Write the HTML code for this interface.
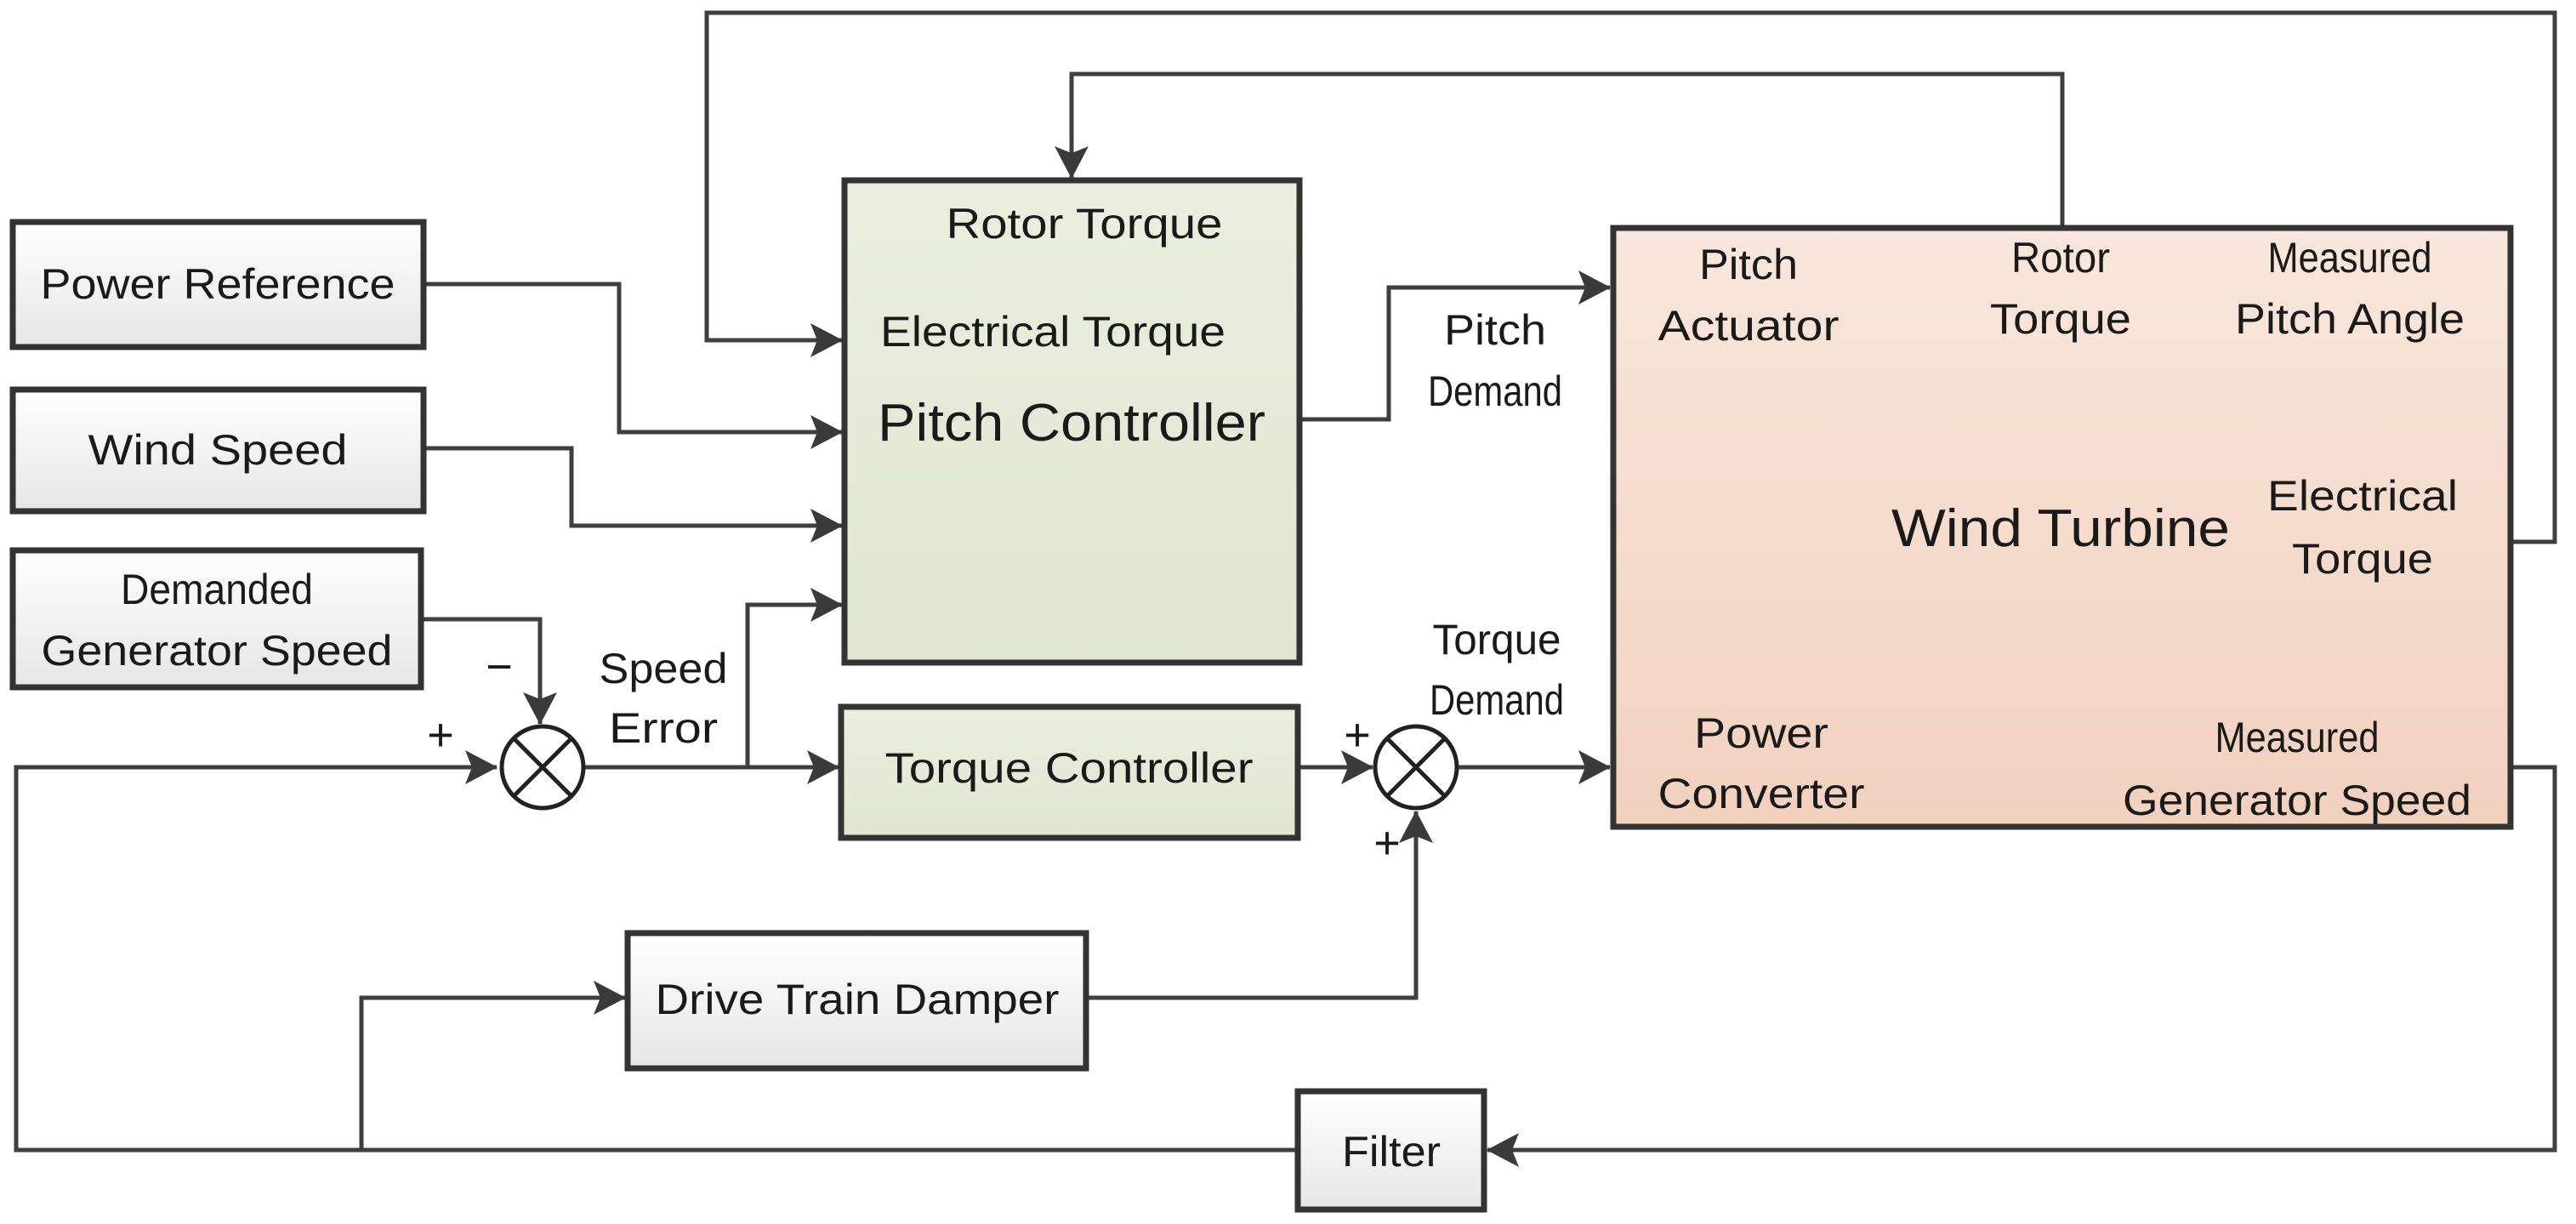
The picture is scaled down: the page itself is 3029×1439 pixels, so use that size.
<!DOCTYPE html>
<html><head><meta charset="utf-8"><style>
html,body{margin:0;padding:0;background:#fff}
svg{display:block}
text{font-family:"Liberation Sans",sans-serif;fill:#1a1a1a}
</style></head><body>
<svg width="3029" height="1439" viewBox="0 0 3029 1439" xmlns="http://www.w3.org/2000/svg">
<defs>
<linearGradient id="gg" x1="0" y1="0" x2="0" y2="1"><stop offset="0" stop-color="#ffffff"/><stop offset="1" stop-color="#e6e6e6"/></linearGradient>
<linearGradient id="gn" x1="0" y1="0" x2="0" y2="1"><stop offset="0" stop-color="#eaefdf"/><stop offset="1" stop-color="#dfe6cf"/></linearGradient>
<linearGradient id="go" x1="0" y1="0" x2="0" y2="1"><stop offset="0" stop-color="#f8e7dc"/><stop offset="1" stop-color="#f2d1be"/></linearGradient>
<marker id="a" markerWidth="8" markerHeight="8" refX="7" refY="4" orient="auto" markerUnits="userSpaceOnUse" viewBox="0 0 8 8" style="overflow:visible">
<path d="M-30,-16 L8,4 L-30,24 L-22,4 Z" fill="#3a3a3a"/></marker>
</defs>
<g fill="none" stroke="#3f3f3f" stroke-width="5">
<polyline points="2952,637 3004,637 3004,15 831,15 831,400 990,400" marker-end="url(#a)"/>
<polyline points="2425,268 2425,87 1260,87 1260,209" marker-end="url(#a)"/>
<polyline points="498,334 728,334 728,508 990,508" marker-end="url(#a)"/>
<polyline points="498,527 672,527 672,618 990,618" marker-end="url(#a)"/>
<polyline points="495,728 635,728 635,851" marker-end="url(#a)"/>
<polyline points="686,902 986,902" marker-end="url(#a)"/>
<polyline points="879,902 879,711 990,711" marker-end="url(#a)"/>
<polyline points="1526,902 1614,902" marker-end="url(#a)"/>
<polyline points="1713,902 1893,902" marker-end="url(#a)"/>
<polyline points="1528,493 1633,493 1633,338 1893,338" marker-end="url(#a)"/>
<polyline points="2952,902 3004,902 3004,1352 1749,1352" marker-end="url(#a)"/>
<polyline points="1526,1352 19,1352 19,902 584,902" marker-end="url(#a)"/>
<polyline points="425,1352 425,1173 735,1173" marker-end="url(#a)"/>
<polyline points="1277,1173 1665,1173 1665,954" marker-end="url(#a)"/>
</g>
<g stroke="#333" stroke-width="7">
<rect x="15" y="261" width="483" height="147" fill="url(#gg)"/>
<rect x="15" y="458" width="483" height="143" fill="url(#gg)"/>
<rect x="15" y="647" width="480" height="161" fill="url(#gg)"/>
<rect x="993" y="212" width="535" height="567" fill="url(#gn)"/>
<rect x="989" y="831" width="537" height="154" fill="url(#gn)"/>
<rect x="1897" y="268" width="1055" height="704" fill="url(#go)"/>
<rect x="738" y="1097" width="539" height="159" fill="url(#gg)"/>
<rect x="1526" y="1283" width="219" height="139" fill="url(#gg)"/>
</g>
<g stroke="#222" stroke-width="5" fill="#fff">
<circle cx="638" cy="902" r="48"/>
<line x1="604" y1="868" x2="672" y2="936"/><line x1="672" y1="868" x2="604" y2="936"/>
<circle cx="1665" cy="902" r="48"/>
<line x1="1631" y1="868" x2="1699" y2="936"/><line x1="1699" y1="868" x2="1631" y2="936"/>
</g>
<g font-size="50" text-anchor="middle">
<text x="256" y="351" textLength="417" lengthAdjust="spacingAndGlyphs">Power Reference</text>
<text x="256" y="546" textLength="305" lengthAdjust="spacingAndGlyphs">Wind Speed</text>
<text x="255" y="710" textLength="226" lengthAdjust="spacingAndGlyphs">Demanded</text>
<text x="255" y="782" textLength="413" lengthAdjust="spacingAndGlyphs">Generator Speed</text>
<text x="1275" y="280" textLength="325" lengthAdjust="spacingAndGlyphs">Rotor Torque</text>
<text x="1238" y="407" textLength="406" lengthAdjust="spacingAndGlyphs">Electrical Torque</text>
<text x="1260" y="518" font-size="62" textLength="456" lengthAdjust="spacingAndGlyphs">Pitch Controller</text>
<text x="1257" y="920" textLength="433" lengthAdjust="spacingAndGlyphs">Torque Controller</text>
<text x="1008" y="1192" textLength="475" lengthAdjust="spacingAndGlyphs">Drive Train Damper</text>
<text x="1636" y="1371" textLength="116" lengthAdjust="spacingAndGlyphs">Filter</text>
<text x="2423" y="642" font-size="62" textLength="398" lengthAdjust="spacingAndGlyphs">Wind Turbine</text>
<text x="780" y="803" textLength="151" lengthAdjust="spacingAndGlyphs">Speed</text>
<text x="780" y="873" textLength="128" lengthAdjust="spacingAndGlyphs">Error</text>
<text x="1758" y="405" textLength="120" lengthAdjust="spacingAndGlyphs">Pitch</text>
<text x="1758" y="477" textLength="158" lengthAdjust="spacingAndGlyphs">Demand</text>
<text x="1760" y="769" textLength="151" lengthAdjust="spacingAndGlyphs">Torque</text>
<text x="1760" y="840" textLength="158" lengthAdjust="spacingAndGlyphs">Demand</text>
<text x="2056" y="328" textLength="116" lengthAdjust="spacingAndGlyphs">Pitch</text>
<text x="2056" y="400" textLength="213" lengthAdjust="spacingAndGlyphs">Actuator</text>
<text x="2423" y="320" textLength="116" lengthAdjust="spacingAndGlyphs">Rotor</text>
<text x="2423" y="392" textLength="166" lengthAdjust="spacingAndGlyphs">Torque</text>
<text x="2763" y="320" textLength="193" lengthAdjust="spacingAndGlyphs">Measured</text>
<text x="2763" y="392" textLength="270" lengthAdjust="spacingAndGlyphs">Pitch Angle</text>
<text x="2778" y="600" textLength="224" lengthAdjust="spacingAndGlyphs">Electrical</text>
<text x="2778" y="674" textLength="166" lengthAdjust="spacingAndGlyphs">Torque</text>
<text x="2071" y="879" textLength="158" lengthAdjust="spacingAndGlyphs">Power</text>
<text x="2071" y="950" textLength="243" lengthAdjust="spacingAndGlyphs">Converter</text>
<text x="2701" y="884" textLength="193" lengthAdjust="spacingAndGlyphs">Measured</text>
<text x="2701" y="958" textLength="410" lengthAdjust="spacingAndGlyphs">Generator Speed</text>
<text x="518" y="882" font-size="54">+</text>
<text x="587" y="802" font-size="54">−</text>
<text x="1596" y="882" font-size="54">+</text>
<text x="1631" y="1009" font-size="54">+</text>
</g>
</svg>
</body></html>
